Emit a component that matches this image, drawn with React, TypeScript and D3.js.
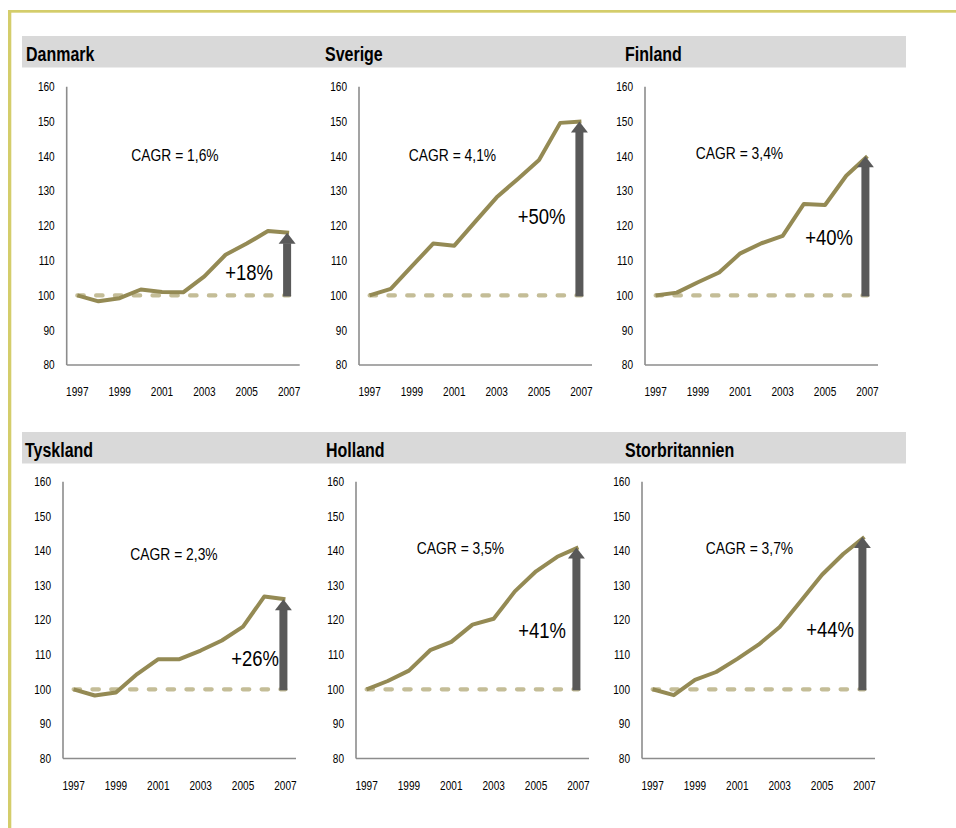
import React from "react";
import * as d3 from "d3";

// Productivity index (1997 = 100) by country, 1997-2007
const years = ["1997", "1998", "1999", "2000", "2001", "2002", "2003", "2004", "2005", "2006", "2007"];
const yearTicks = ["1997", "1999", "2001", "2003", "2005", "2007"];
const valueTicks = [80, 90, 100, 110, 120, 130, 140, 150, 160];

const countries = ["Danmark", "Sverige", "Finland", "Tyskland", "Holland", "Storbritannien"];

const danmark = [100, 98.3, 99.2, 101.7, 101.0, 100.9, 105.5, 111.7, 114.9, 118.5, 118];
const sverige = [100, 101.9, 108.4, 114.9, 114.3, 121.3, 128.2, 133.5, 138.9, 149.6, 150];
const finland = [100, 100.8, 103.8, 106.6, 112.1, 115.0, 117.1, 126.3, 126.0, 134.4, 140];
const tyskland = [100, 98.2, 99.1, 104.4, 108.7, 108.7, 111.2, 114.1, 118.1, 126.8, 126];
const holland = [100, 102.4, 105.4, 111.3, 113.7, 118.7, 120.4, 128.3, 134.1, 138.3, 141];
const storbritannien = [100, 98.3, 102.7, 105.0, 108.8, 112.9, 118.0, 125.5, 133.1, 139.1, 144];

const series = [danmark, sverige, finland, tyskland, holland, storbritannien];

const cagrLabels = ["CAGR = 1,6%", "CAGR = 4,1%", "CAGR = 3,4%", "CAGR = 2,3%", "CAGR = 3,5%", "CAGR = 3,7%"];
const changeValues = [18, 50, 40, 26, 41, 44];

const baseValue = 100;

// Panel placement on the page
const layout = [
  { axisX: 66.7, top: 86.7, bottom: 365, titleX: 26, cagr: [175, 155], change: [249, 272.5] },
  { axisX: 359, top: 86.7, bottom: 365, titleX: 325, cagr: [452.5, 155], change: [541.5, 215.7] },
  { axisX: 645, top: 86.7, bottom: 365, titleX: 625, cagr: [739.5, 153], change: [829, 237] },
  { axisX: 63, top: 481.7, bottom: 758.5, titleX: 25, cagr: [174, 554], change: [255, 658] },
  { axisX: 356, top: 481.7, bottom: 758.5, titleX: 326, cagr: [460.5, 548], change: [542, 630] },
  { axisX: 642, top: 481.7, bottom: 758.5, titleX: 625, cagr: [749.5, 548], change: [830, 629] },
];

const plotWidth = 233;
const FONT = "'Liberation Sans', Arial, sans-serif";
const CONDENSE = 0.84;

const LINE = "#948A54";
const DASH = "#C4BD97";
const ARROW = "#595959";
const AXIS = "#8C8C8C";
const BORDER = "#D4CD6B";
const BAND = "#D9D9D9";

// Condensed text: horizontally squeezed around its anchor point
function NText({
  x,
  y,
  size,
  anchor = "start",
  bold = false,
  dy,
  children,
  squeeze = CONDENSE,
}: {
  x: number;
  y: number;
  size: number;
  anchor?: "start" | "middle" | "end";
  bold?: boolean;
  dy?: string;
  squeeze?: number;
  children: React.ReactNode;
}) {
  return (
    <text
      transform={`translate(${x},${y}) scale(${squeeze},1)`}
      dy={dy}
      textAnchor={anchor}
      fontSize={size}
      fontWeight={bold ? "bold" : "normal"}
      fontFamily={FONT}
      fill="#000"
    >
      {children}
    </text>
  );
}

function Panel({ index }: { index: number }) {
  const L = layout[index];
  const data = series[index];
  const x = d3.scalePoint<string>().domain(years).range([L.axisX, L.axisX + plotWidth]).padding(0.5);
  const y = d3.scaleLinear().domain([80, 160]).range([L.bottom, L.top]);

  const line = d3
    .line<number>()
    .x((_, i) => x(years[i]) as number)
    .y((d) => y(d));

  const x0 = x(years[0]) as number;
  const xEnd = x(years[years.length - 1]) as number;
  const endValue = baseValue + changeValues[index];

  const ax = xEnd - 2;
  const tipY = y(endValue);
  const headH = 11;
  const headW = 17;
  const shaftW = 8;
  const baseY = y(baseValue) + 1;

  return (
    <g>
      {/* axes */}
      <line x1={L.axisX} x2={L.axisX} y1={L.top} y2={L.bottom} stroke={AXIS} strokeWidth={1.6} />
      <line x1={L.axisX} x2={L.axisX + plotWidth} y1={L.bottom} y2={L.bottom} stroke={AXIS} strokeWidth={1.6} />
      {valueTicks.map((t) => (
        <NText key={t} x={L.axisX - 12} y={y(t)} dy="0.36em" anchor="end" size={12}>
          {t}
        </NText>
      ))}
      {yearTicks.map((t) => (
        <NText key={t} x={x(t) as number} y={L.bottom + 27} dy="0.36em" anchor="middle" size={12}>
          {t}
        </NText>
      ))}

      {/* baseline at 100 */}
      <line
        x1={x0}
        x2={xEnd}
        y1={y(baseValue)}
        y2={y(baseValue)}
        stroke={DASH}
        strokeWidth={4.2}
        strokeDasharray="6.5 12.3"
        strokeLinecap="round"
      />

      {/* index series */}
      <path d={line(data) as string} fill="none" stroke={LINE} strokeWidth={4} strokeLinejoin="round" />

      {/* growth arrow */}
      <rect x={ax - shaftW / 2} y={tipY + headH - 0.5} width={shaftW} height={baseY - tipY - headH + 0.5} fill={ARROW} />
      <polygon points={`${ax},${tipY} ${ax - headW / 2},${tipY + headH} ${ax + headW / 2},${tipY + headH}`} fill={ARROW} />

      <NText x={L.cagr[0]} y={L.cagr[1]} dy="0.36em" anchor="middle" size={16.5}>
        {cagrLabels[index]}
      </NText>
      <NText x={L.change[0]} y={L.change[1]} dy="0.36em" anchor="middle" size={22}>
        {`+${changeValues[index]}%`}
      </NText>
    </g>
  );
}

export default function App() {
  const bandRows = [36, 432];
  return (
    <svg width={956} height={828} style={{ position: "absolute", left: 0, top: 0, background: "#fff" }}>
      <rect x={0} y={0} width={956} height={828} fill="#fff" />
      {/* frame */}
      <rect x={8} y={10} width={948} height={2.7} fill={BORDER} />
      <rect x={8} y={10} width={3.3} height={818} fill={BORDER} />

      {/* header bands */}
      {bandRows.map((by) => (
        <rect key={by} x={22} y={by} width={884} height={31.5} fill={BAND} />
      ))}
      {countries.map((c, i) => (
        <NText key={c} x={layout[i].titleX} y={bandRows[Math.floor(i / 3)] + 25} size={19.5} bold squeeze={0.82}>
          {c}
        </NText>
      ))}

      {countries.map((c, i) => (
        <Panel key={c} index={i} />
      ))}
    </svg>
  );
}
